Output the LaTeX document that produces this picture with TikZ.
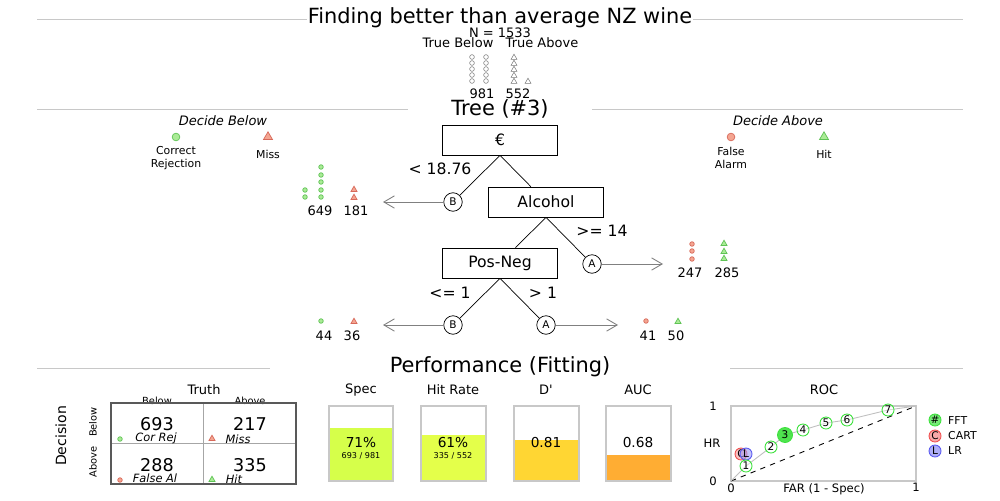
\documentclass[tikz,border=0pt]{standalone}
\usepackage{fontspec}
\setmainfont{DejaVu Sans}
\usetikzlibrary{arrows.meta}

\definecolor{crgreen}{RGB}{170,235,150}
\definecolor{crgreenline}{RGB}{95,195,85}
\definecolor{mired}{RGB}{244,165,145}
\definecolor{miredline}{RGB}{215,105,90}
\definecolor{rulegray}{RGB}{200,200,200}
\definecolor{icongray}{RGB}{120,120,120}
\definecolor{specfill}{RGB}{214,255,74}
\definecolor{hrfill}{RGB}{228,255,74}
\definecolor{dfill}{RGB}{255,214,51}
\definecolor{aucfill}{RGB}{255,173,51}
\definecolor{fftgreen}{RGB}{60,225,60}
\definecolor{cartred}{RGB}{240,80,80}
\definecolor{lrblue}{RGB}{90,90,240}

\tikzset{
  fbig/.style={font=\fontsize{11.9}{13}\selectfont},
  fnode/.style={font=\fontsize{8.9}{10}\selectfont},
  fcell/.style={font=\fontsize{10}{11}\selectfont},
  fmid/.style={font=\fontsize{7.4}{8.6}\selectfont},
  fsmall/.style={font=\fontsize{6.2}{7.2}\selectfont},
  ftiny/.style={font=\fontsize{4.6}{5.5}\selectfont},
  fhead/.style={font=\fontsize{5.6}{6}\selectfont},
  ftag/.style={font=\fontsize{6.5}{7}\selectfont\itshape},
  treebox/.style={draw, fill=white, fnode, minimum width=2.3cm, minimum height=0.6cm, inner sep=0pt},
  exitnode/.style={draw, circle, fill=white, font=\fontsize{6}{6}\selectfont, minimum size=0.37cm, inner sep=0pt},
  rule/.style={rulegray, line width=0.5pt},
  exitarrow/.style={gray, line width=0.5pt, -{Straight Barb[length=6pt, width=7pt]}},
  triicon/.pic={\path[pic actions] (-3,2.4) -- (3,2.4) -- (0,-2.8) -- cycle;},
  bigtri/.pic={\path[pic actions] (-4.5,3.5) -- (4.5,3.5) -- (0,-4.2) -- cycle;},
  crdot/.style={draw=crgreenline, fill=crgreen, line width=0.4pt},
  midot/.style={draw=miredline, fill=mired, line width=0.4pt},
  topdot/.style={draw=icongray, line width=0.3pt},
  barframe/.style={draw=rulegray, line width=0.7pt},
  fftpt/.style={draw=fftgreen, circle, fill=white, fill opacity=0.4, text opacity=1, font=\fontsize{6}{6}\selectfont, minimum size=0.24cm, inner sep=0pt, line width=0.5pt},
}

\begin{document}
\begin{tikzpicture}[x=0.02cm, y=-0.02cm]
	\useasboundingbox (0,0) rectangle (1000,500);

	% Title and the whole data set
	\node[fbig, inner sep=0pt] (Title) at (500,18) {Finding better than average NZ wine};
	\coordinate (TitleRuleA) at (37,19);
	\coordinate (TitleRuleB) at (307,19);
	\coordinate (TitleRuleC) at (693,19);
	\coordinate (TitleRuleD) at (963,19);
	\draw[rule] (TitleRuleA) -- (TitleRuleB);
	\draw[rule] (TitleRuleC) -- (TitleRuleD);

	\node[fmid, inner sep=0pt] (NTotal) at (500,33) {N = 1533};
	\node[fmid] (TrueBelow) at (458,43) {True Below};
	\node[fmid] (TrueAbove) at (542,43) {True Above};
	\foreach \y in {57,63,69,75,81} {
		\draw[topdot] (472,\y) circle (1.35pt);
		\draw[topdot] (486,\y) circle (1.35pt);
		\pic[topdot] at (514,\y) {triicon};
	}
	\pic[topdot] at (528,81) {triicon};
	\node[fmid] (NBelow) at (482,94) {981};
	\node[fmid] (NAbove) at (518,94) {552};

	% Tree heading and the decision legend
	\node[fbig] (TreeTitle) at (500,109) {Tree (\#3)};
	\coordinate (TreeRuleA) at (37,109);
	\coordinate (TreeRuleB) at (408,109);
	\coordinate (TreeRuleC) at (592,109);
	\coordinate (TreeRuleD) at (963,109);
	\draw[rule] (TreeRuleA) -- (TreeRuleB);
	\draw[rule] (TreeRuleC) -- (TreeRuleD);

	\node[font=\fontsize{7.4}{8.6}\selectfont\itshape] (DecBelow) at (223,121) {Decide Below};
	\node[font=\fontsize{7.4}{8.6}\selectfont\itshape] (DecAbove) at (778,121) {Decide Above};
	\draw[crdot] (176,137) circle (2.2pt);
	\node[fsmall, align=center] (LegCR) at (176,158) {Correct\\Rejection};
	\pic[midot] at (268,136) {bigtri};
	\node[fsmall] (LegMiss) at (268,154) {Miss};
	\draw[midot] (731,137) circle (2.2pt);
	\node[fsmall, align=center] (LegFA) at (731,158) {False\\Alarm};
	\pic[crdot] at (824,136) {bigtri};
	\node[fsmall] (LegHit) at (824,154) {Hit};

	% Define the cue nodes and exits
	\node[exitnode] (ExitB1) at (453,202) {B};
	\node[exitnode] (ExitA2) at (592,264) {A};
	\node[exitnode] (ExitB3) at (453,325) {B};
	\node[exitnode] (ExitA3) at (546,325) {A};
	\coordinate (EndB1) at (383,202);
	\coordinate (EndA2) at (663,264);
	\coordinate (EndB3) at (383,325);
	\coordinate (EndA3) at (618,325);

	\node[treebox] (NodePrice) at (500,140) {€};
	\node[treebox] (NodeAlcohol) at (546,202) {Alcohol};
	\node[treebox] (NodePosNeg) at (500,263) {Pos-Neg};

	\draw (NodePrice.south) -- (ExitB1);
	\draw (NodePrice.south) -- (NodeAlcohol);
	\draw (NodeAlcohol.south) -- (ExitA2);
	\draw (NodeAlcohol.south) -- (NodePosNeg);
	\draw (NodePosNeg.south) -- (ExitB3);
	\draw (NodePosNeg.south) -- (ExitA3);
	\draw[exitarrow] (ExitB1) -- (EndB1);
	\draw[exitarrow] (ExitA2) -- (EndA2);
	\draw[exitarrow] (ExitB3) -- (EndB3);
	\draw[exitarrow] (ExitA3) -- (EndA3);

	\node[fnode] (CutPrice) at (440,169) {< 18.76};
	\node[fnode] (CutAlcohol) at (602,231) {>= 14};
	\node[fnode] (CutPosNegB) at (450,293) {<= 1};
	\node[fnode] (CutPosNegA) at (543,293) {> 1};

	% Counts at the exits
	\foreach \y in {190,197} \draw[crdot] (305,\y) circle (1.3pt);
	\foreach \y in {167,175,182,190,197} \draw[crdot] (321,\y) circle (1.3pt);
	\foreach \y in {189,197} \pic[midot] at (354,\y) {triicon};
	\node[fmid] (CountCR1) at (320,211) {649};
	\node[fmid] (CountMi1) at (356,211) {181};

	\foreach \y in {244,251,259} \draw[midot] (692,\y) circle (1.3pt);
	\foreach \y in {243,251,258} \pic[crdot] at (724,\y) {triicon};
	\node[fmid] (CountFA2) at (690,273) {247};
	\node[fmid] (CountHi2) at (727,273) {285};

	\draw[crdot] (321,321) circle (1.3pt);
	\pic[midot] at (354,321) {triicon};
	\node[fmid] (CountCR3) at (324,336) {44};
	\node[fmid] (CountMi3) at (352,336) {36};

	\draw[midot] (646,321) circle (1.3pt);
	\pic[crdot] at (678,321) {triicon};
	\node[fmid] (CountFA3) at (648,336) {41};
	\node[fmid] (CountHi3) at (676,336) {50};

	% Performance heading
	\node[fbig] (PerfTitle) at (500,367) {Performance (Fitting)};
	\coordinate (PerfRuleA) at (37,368);
	\coordinate (PerfRuleB) at (270,368);
	\coordinate (PerfRuleC) at (730,368);
	\coordinate (PerfRuleD) at (963,368);
	\draw[rule] (PerfRuleA) -- (PerfRuleB);
	\draw[rule] (PerfRuleC) -- (PerfRuleD);

	% Confusion matrix
	\node[fmid] (Truth) at (204,390) {Truth};
	\node[fhead] (TruthBelow) at (157,401) {Below};
	\node[fhead] (TruthAbove) at (250,401) {Above};
	\node[fmid, font=\fontsize{8}{9}\selectfont, rotate=90] (Decision) at (61,436) {Decision};
	\node[fhead, rotate=90] (DecisionBelow) at (93,422) {Below};
	\node[fhead, rotate=90] (DecisionAbove) at (93,462) {Above};
	\draw[gray!70, line width=0.4pt] (203,403) -- (203,484);
	\draw[gray!70, line width=0.4pt] (111,443) -- (296,443);
	\draw[black!65, line width=0.7pt] (111,403) rectangle (296,484);
	\node[fcell] (CellCR) at (157,424) {693};
	\node[fcell] (CellMi) at (250,424) {217};
	\node[fcell] (CellFA) at (157,465) {288};
	\node[fcell] (CellHi) at (250,465) {335};
	\draw[crdot] (120,439) circle (1.3pt);
	\node[ftag] (TagCR) at (156,438) {Cor Rej};
	\pic[midot] at (212,438) {triicon};
	\node[ftag] (TagMi) at (238,439) {Miss};
	\draw[midot] (120,480) circle (1.3pt);
	\node[ftag] (TagFA) at (155,478) {False Al};
	\pic[crdot] at (212,479) {triicon};
	\node[ftag] (TagHi) at (234,479) {Hit};

	% Level bars
	\node[fmid] (SpecTitle) at (361,390) {Spec};
	\fill[specfill] (329,428) rectangle (393,481);
	\draw[barframe] (329,406) rectangle (393,481);
	\node[fmid, font=\fontsize{7.8}{9}\selectfont] (SpecVal) at (361,443) {71\%};
	\node[ftiny] (SpecFrac) at (361,456) {693 / 981};

	\node[fmid] (HRTitle) at (453,390) {Hit Rate};
	\fill[hrfill] (421,435) rectangle (486,481);
	\draw[barframe] (421,406) rectangle (486,481);
	\node[fmid, font=\fontsize{7.8}{9}\selectfont] (HRVal) at (453,443) {61\%};
	\node[ftiny] (HRFrac) at (453,456) {335 / 552};

	\node[fmid] (DTitle) at (546,390) {D\textquotesingle};
	\fill[dfill] (514,440) rectangle (579,481);
	\draw[barframe] (514,406) rectangle (579,481);
	\node[fmid, font=\fontsize{7.8}{9}\selectfont] (DVal) at (546,443) {0.81};

	\node[fmid] (AUCTitle) at (638,390) {AUC};
	\fill[aucfill] (606,455) rectangle (671,481);
	\draw[barframe] (606,406) rectangle (671,481);
	\node[fmid, font=\fontsize{7.8}{9}\selectfont] (AUCVal) at (638,443) {0.68};

	% ROC curve
	\node[fmid] (ROCTitle) at (824,390) {ROC};
	\draw[barframe] (731,406) rectangle (916,481);
	\draw[dashed, line width=0.5pt] (731,481) -- (916,406);
	\node[fsmall, font=\fontsize{6.6}{7}\selectfont] (AxisY1) at (713,406) {1};
	\node[fsmall, font=\fontsize{6.6}{7}\selectfont] (AxisY0) at (713,481) {0};
	\node[fsmall, font=\fontsize{6.6}{7}\selectfont] (AxisHR) at (712,443) {HR};
	\node[fsmall, font=\fontsize{6.6}{7}\selectfont] (AxisX0) at (731,488) {0};
	\node[fsmall, font=\fontsize{6.6}{7}\selectfont] (AxisX1) at (916,487) {1};
	\node[fsmall, font=\fontsize{6.6}{7}\selectfont] (AxisFAR) at (824,489) {FAR (1 - Spec)};

	\draw[gray!50, line width=0.5pt] (731,481) -- (746,466) -- (771,447) -- (785,435) -- (803,430) -- (826,423) -- (847,420) -- (888,410) -- (916,406);
	\node[fftpt, draw=cartred, fill=cartred!60, fill opacity=0.6] (PtCART) at (741,454) {C};
	\node[fftpt, draw=lrblue, fill=lrblue!60, fill opacity=0.6] (PtLR) at (746,454) {L};
	\node[fftpt] (Pt1) at (746,466) {1};
	\node[fftpt] (Pt2) at (771,447) {2};
	\node[fftpt, fill=fftgreen, fill opacity=0.9, minimum size=0.3cm] (Pt3) at (785,435) {3};
	\node[fftpt] (Pt4) at (803,430) {4};
	\node[fftpt] (Pt5) at (826,423) {5};
	\node[fftpt] (Pt6) at (847,420) {6};
	\node[fftpt] (Pt7) at (888,410) {7};

	\node[fftpt, fill=fftgreen, fill opacity=0.7] (KeyFFT) at (935,420) {\#};
	\node[fsmall, anchor=west] (KeyFFTText) at (942,421) {FFT};
	\node[fftpt, draw=cartred, fill=cartred!70, fill opacity=0.7] (KeyCART) at (935,436) {C};
	\node[fsmall, anchor=west] (KeyCARTText) at (942,436) {CART};
	\node[fftpt, draw=lrblue, fill=lrblue!70, fill opacity=0.7] (KeyLR) at (935,451) {L};
	\node[fsmall, anchor=west] (KeyLRText) at (942,451) {LR};
\end{tikzpicture}
\end{document}
